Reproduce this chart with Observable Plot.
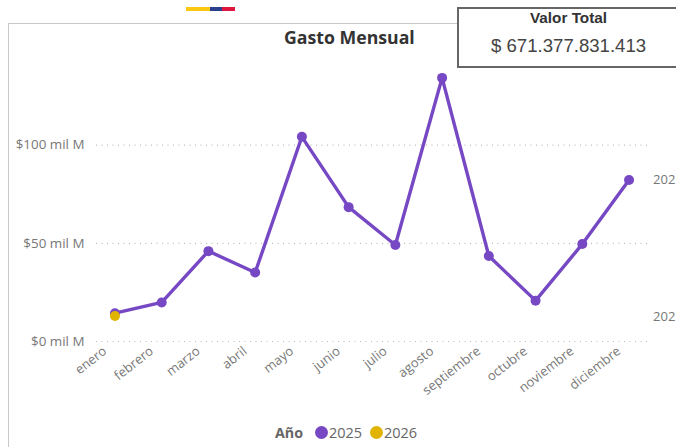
<!DOCTYPE html>
<html>
<head>
<meta charset="utf-8">
<script src="https://cdn.jsdelivr.net/npm/d3@7"></script>
<script src="https://cdn.jsdelivr.net/npm/@observablehq/plot@0.6"></script>
<style>
html,body{margin:0;padding:0;background:#fff;overflow:hidden}
#page{position:relative;width:676px;height:447px;overflow:hidden;font-family:"Open Sans",sans-serif}
#page svg{position:absolute;left:0;top:0}
.abs{position:absolute;white-space:nowrap}
</style>
</head>
<body>
<div id="page">
  <div class="abs" style="left:8px;top:23px;width:449px;height:424px;border-left:1.5px solid #c8c8c8;border-top:1.5px solid #c8c8c8;box-sizing:border-box"></div>
  <div class="abs" style="left:186px;top:7px;width:24px;height:4px;background:#fcc80f"></div>
  <div class="abs" style="left:210px;top:7px;width:12px;height:4px;background:#2b3f8c"></div>
  <div class="abs" style="left:222px;top:7px;width:13px;height:4px;background:#e0163c"></div>
  <div id="chart"></div>
  <div class="abs" style="left:284px;top:25px;font-size:17.7px;font-weight:700;color:#333;line-height:24px">Gasto Mensual</div>
  <div class="abs" style="left:457px;top:7px;width:225px;height:61px;border:2px solid #666;box-sizing:border-box;background:#fff;font-family:'Liberation Sans',sans-serif;color:#444">
    <div class="abs" style="left:71px;top:1px;font-size:15.3px;font-weight:700;line-height:16px;color:#333">Valor Total</div>
    <div class="abs" style="left:32px;top:26px;font-size:18.6px;line-height:22px">$ 671.377.831.413</div>
  </div>
  <div class="abs" style="left:275px;top:423px;font-size:14.3px;font-weight:700;color:#666;line-height:20px">Año</div>
  <div class="abs" style="left:315px;top:426px;width:13px;height:13px;border-radius:50%;background:#7648c4"></div>
  <div class="abs" style="left:329px;top:423px;font-size:14.5px;color:#666;line-height:20px">2025</div>
  <div class="abs" style="left:370px;top:426px;width:13px;height:13px;border-radius:50%;background:#e0b400"></div>
  <div class="abs" style="left:384px;top:423px;font-size:14.5px;color:#666;line-height:20px">2026</div>
</div>
<script>
const meses = ["enero","febrero","marzo","abril","mayo","junio","julio","agosto","septiembre","octubre","noviembre","diciembre"];
const gasto2025 = [14.4,19.9,46.0,35.1,104.2,68.4,49.1,134.2,43.5,20.8,49.6,82.2];
const meses2026 = ["enero"];
const gasto2026 = [13.0];
const yTicks = [0,50,100];
const color2025 = "#7648c4";
const color2026 = "#e0b400";
const rows2025 = meses.map((m,i)=>({mes:m,valor:gasto2025[i]}));
const rows2026 = meses2026.map((m,i)=>({mes:m,valor:gasto2026[i]}));
const endLabels = [{valor:82.2,t:"202"},{valor:12.8,t:"202"}];

const chart = Plot.plot({
  width:676,height:447,
  marginLeft:96,marginRight:29,marginTop:66,marginBottom:106,
  style:{fontFamily:"'Open Sans',sans-serif",background:"transparent",overflow:"visible"},
  x:{type:"point",domain:meses,padding:0.395,round:false,label:null},
  y:{domain:[0,140],label:null},
  marks:[
    Plot.ruleY(yTicks,{stroke:"#bdbdbd",strokeDasharray:"1 4.5",strokeWidth:1.2}),
    Plot.axisY(yTicks,{tickSize:0,tickPadding:12,label:null,fontSize:13.4,fill:"#777",stroke:"none",
      tickFormat:d=>`$${d} mil M`}),
    Plot.axisX(meses,{tickSize:0,tickRotate:-38,tickPadding:8,dx:-10,label:null,fontSize:13,fill:"#777",stroke:"none"}),
    Plot.line(rows2025,{x:"mes",y:"valor",stroke:color2025,strokeWidth:3.4}),
    Plot.dot(rows2025,{x:"mes",y:"valor",fill:color2025,r:5}),
    Plot.dot(rows2026,{x:"mes",y:"valor",fill:color2026,r:5}),
    Plot.text(endLabels,{x:()=>"diciembre",dx:24,y:"valor",text:"t",textAnchor:"start",fontSize:13,fill:"#777"})
  ]
});
document.getElementById("chart").appendChild(chart);
</script>
</body>
</html>
